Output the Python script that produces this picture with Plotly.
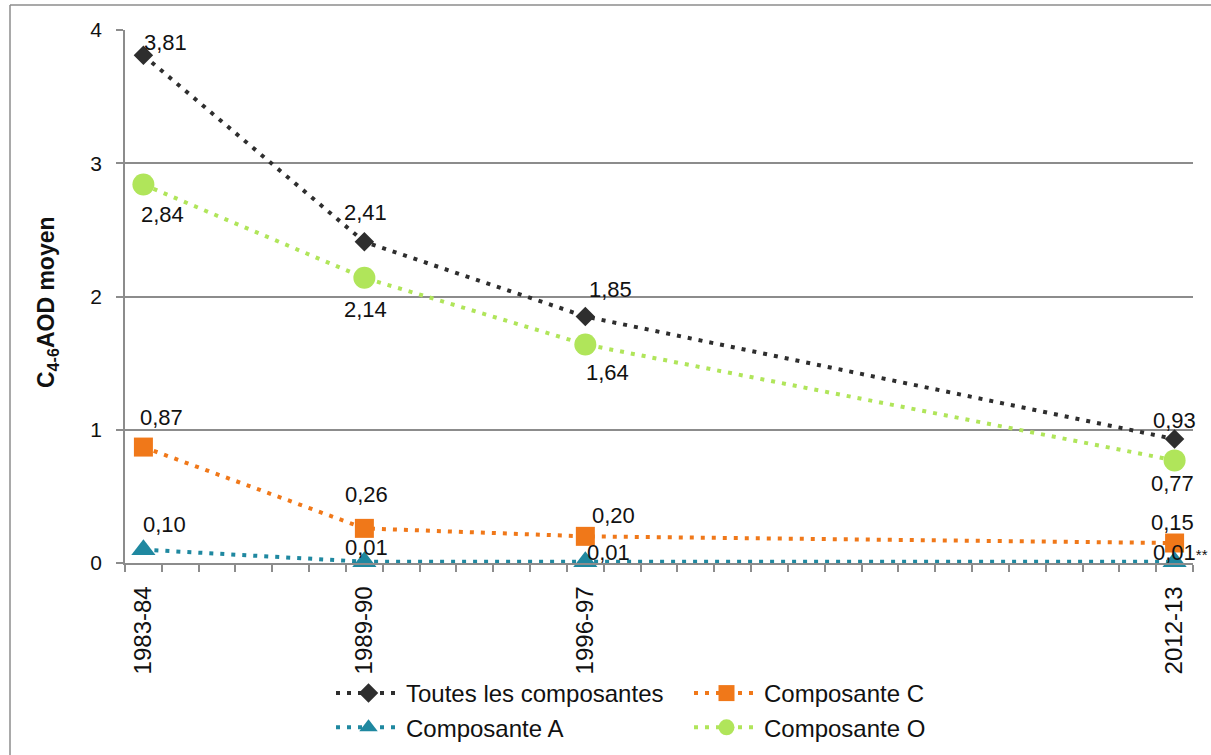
import plotly.graph_objects as go

# positions des campagnes sur l'axe (axe date d'Excel, une graduation par an)
annee_axe = [1983, 1989, 1995, 2011]
periodes = ["1983-84", "1989-90", "1996-97", "2012-13"]

toutes = [3.81, 2.41, 1.85, 0.93]
comp_c = [0.87, 0.26, 0.20, 0.15]
comp_a = [0.10, 0.01, 0.01, 0.01]
comp_o = [2.84, 2.14, 1.64, 0.77]

FONT = "Liberation Sans, Arial, Helvetica, sans-serif"
GRIS = "#8c8c8c"

W, H = 1211, 755
L, R, T, B = 125, 18, 30, 192
PW, PH = W - L - R, H - T - B


def fr(v):
    return f"{v:.2f}".replace(".", ",")


def px_x(x):
    return (x - L) / PW


def px_y(y):
    return (H - B - y) / PH


# (nom, valeurs, couleur, symbole, taille, décalages des étiquettes en px, légende)
series = [
    ("Toutes les composantes", toutes, "#2e2e2e", "diamond", 15,
     [(22, -13), (1, -29), (25, -27), (0, -19)], "legend"),
    ("Composante C", comp_c, "#f07819", "square", 19,
     [(18, -30), (2, -34), (28, -21), (-2, -21)], "legend2"),
    ("Composante A", comp_a, "#1f88a0", "triangle-up", 21,
     [(21, -25), (2, -14), (23, -9), (6, -9)], "legend"),
    ("Composante O", comp_o, "#b0e55a", "circle", 22,
     [(19, 30), (1, 32), (22, 28), (-2, 23)], "legend2"),
]

fig = go.Figure()
annotations = []
for nom, vals, col, sym, size, decal, leg in series:
    fig.add_trace(go.Scatter(
        x=annee_axe, y=vals, name=nom, mode="lines+markers",
        line=dict(color=col, width=4, dash="4px,7px"),
        marker=dict(symbol=sym, size=size, color=col),
        legend=leg, cliponaxis=False,
    ))
    for i, (x, v) in enumerate(zip(annee_axe, vals)):
        txt = fr(v)
        if nom == "Composante A" and i == len(vals) - 1:
            txt += "<span style='font-size:15px'>**</span>"
        annotations.append(dict(
            x=x, y=v, xref="x", yref="y", text=txt, showarrow=False,
            xshift=decal[i][0], yshift=-decal[i][1],
            font=dict(family=FONT, size=22, color="#111"),
        ))

annotations.append(dict(
    x=px_x(47), y=px_y(302), xref="paper", yref="paper",
    xanchor="center", yanchor="middle",
    text="<b>C<sub>4-6</sub>AOD moyen</b>", textangle=-90, showarrow=False,
    font=dict(family=FONT, size=23, color="#111"),
))

fig.update_layout(
    width=W, height=H,
    margin=dict(l=L, r=R, t=T, b=B, autoexpand=False),
    paper_bgcolor="white", plot_bgcolor="white",
    font=dict(family=FONT, size=22, color="#111"),
    annotations=annotations,
    legend=dict(x=px_x(331), y=px_y(671), xanchor="left", yanchor="top",
                orientation="v", tracegroupgap=0, itemwidth=65,
                font=dict(size=24), bgcolor="rgba(0,0,0,0)"),
    legend2=dict(x=px_x(689), y=px_y(671), xanchor="left", yanchor="top",
                 orientation="v", tracegroupgap=0, itemwidth=65,
                 font=dict(size=24), bgcolor="rgba(0,0,0,0)"),
    shapes=[
        dict(type="line", xref="paper", yref="paper",
             x0=px_x(10), x1=px_x(W + 5), y0=px_y(5), y1=px_y(5),
             line=dict(color=GRIS, width=1.5)),
        dict(type="line", xref="paper", yref="paper",
             x0=px_x(10), x1=px_x(10), y0=px_y(5), y1=px_y(H + 5),
             line=dict(color=GRIS, width=1.5)),
    ],
)

fig.update_xaxes(
    range=[1982.5, 2011.5], automargin=False,
    tickmode="array", tickvals=annee_axe, ticktext=periodes,
    tickangle=-90, ticks="", showgrid=False, zeroline=False,
    showline=True, linecolor=GRIS, linewidth=1.5,
    tickfont=dict(size=24), ticklabelstandoff=12,
    minor=dict(ticks="outside", ticklen=7, tickcolor=GRIS, tickwidth=1.5,
               tick0=1982.5, dtick=1, showgrid=False),
)
fig.update_yaxes(
    range=[0, 4], dtick=1, tickformat="d", automargin=False,
    showgrid=True, gridcolor=GRIS, gridwidth=1.5, zeroline=False,
    showline=True, linecolor=GRIS, linewidth=1.5,
    ticks="outside", ticklen=7, tickcolor=GRIS, tickwidth=1.5,
    tickfont=dict(size=21), ticklabelstandoff=10,
)

fig.write_html("out.html", config={"displayModeBar": False},
               post_script="document.body.style.margin='0';")
